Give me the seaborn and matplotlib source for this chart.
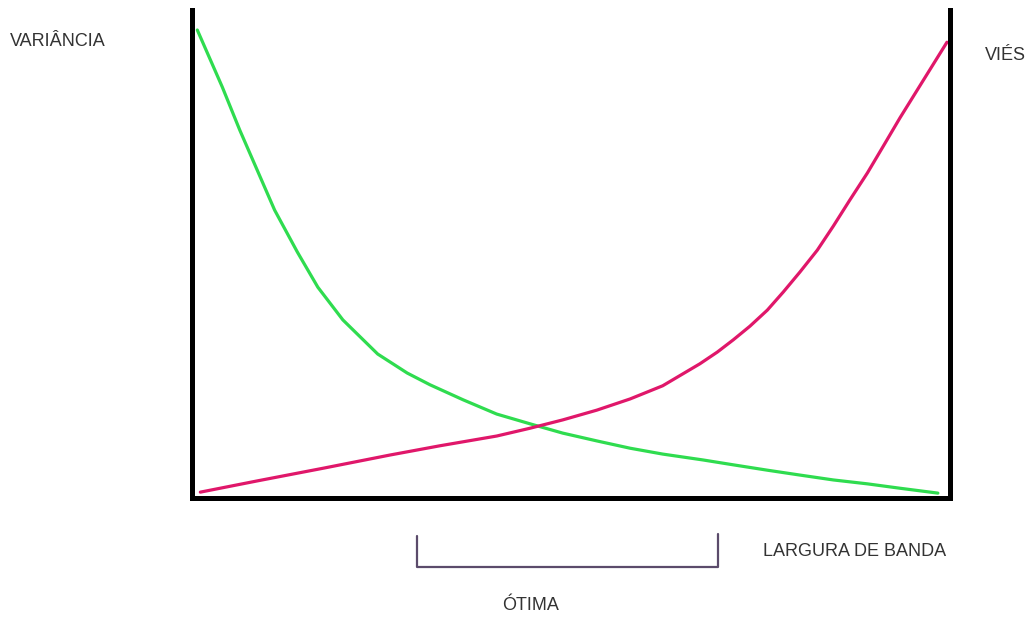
import numpy as np
import pandas as pd
import matplotlib.pyplot as plt
import seaborn as sns

# Curve values (x: bandwidth 0-100, y: 0-100)
variance_x = [0.7, 4.0, 6.3, 8.6, 10.9, 13.9, 16.6, 19.9, 24.5, 28.4, 31.4, 35.8,
              40.2, 44.6, 48.9, 53.4, 57.8, 62.1, 67.4, 71.4, 75.9, 80.2, 84.6,
              89.1, 93.4, 98.4]
variance_y = [95.9, 84.2, 75.4, 67.2, 59.0, 50.4, 43.2, 36.5, 29.5, 25.6, 23.2, 20.1,
              17.2, 15.2, 13.3, 11.7, 10.2, 9.0, 7.8, 6.8, 5.7, 4.7, 3.7,
              2.9, 2.0, 1.0]

bias_x = [1.1, 8.6, 17.3, 26.1, 32.7, 40.2, 44.6, 48.9, 53.4, 57.8, 62.1, 67.0,
          69.3, 71.4, 73.6, 75.9, 78.0, 80.2, 82.5, 84.6, 86.8, 89.1, 91.2,
          93.4, 95.6, 97.8, 99.6]
bias_y = [1.2, 3.5, 6.1, 8.8, 10.7, 12.7, 14.3, 16.0, 18.0, 20.3, 23.0, 27.5,
          29.9, 32.4, 35.2, 38.5, 42.2, 46.3, 50.8, 55.7, 61.1, 66.6, 72.1,
          77.9, 83.4, 88.9, 93.4]

# Optimal bandwidth bracket (x range) drawn below the axis
optimal_range = [29.7, 69.4]

variance = pd.DataFrame({'x': variance_x, 'y': variance_y})
bias = pd.DataFrame({'x': bias_x, 'y': bias_y})

sns.set_style('white')
plt.rcParams['font.family'] = ['Liberation Sans', 'DejaVu Sans']

fig = plt.figure(figsize=(10.25, 6.17), dpi=100)
ax = fig.add_axes([192 / 1025, 1 - 498 / 617, (950 - 192) / 1025, (498 - 10) / 617])

sns.lineplot(data=variance, x='x', y='y', ax=ax, color='#2fdc4f', linewidth=2.3)
sns.lineplot(data=bias, x='x', y='y', ax=ax, color='#e0176a', linewidth=2.3)

ax.set_xlim(0, 100)
ax.set_ylim(0, 100)
ax.set_xticks([])
ax.set_yticks([])
ax.set_xlabel('')
ax.set_ylabel('')
ax.spines['top'].set_visible(False)
for side in ['left', 'right', 'bottom']:
    ax.spines[side].set_color('black')
    ax.spines[side].set_linewidth(3.6)
    ax.spines[side].set_capstyle('projecting')

# bracket for the optimal region
lo, hi = optimal_range
ax.plot([lo, lo, hi, hi], [-7.8, -14.1, -14.1, -7.3], color='#5b4b6b',
        linewidth=1.6, clip_on=False)

txt = dict(color='#333333', fontsize=13, va='center', ha='left')
fig.text(10 / 1025, 1 - 42 / 617, 'VARIÂNCIA', **txt)
fig.text(985 / 1025, 1 - 55 / 617, 'VIÉS', **txt)
fig.text(763 / 1025, 1 - 552 / 617, 'LARGURA DE BANDA', **txt)
fig.text(502 / 1025, 1 - 605 / 617, 'ÓTIMA', **txt)

fig.savefig('out.png', dpi=100)
